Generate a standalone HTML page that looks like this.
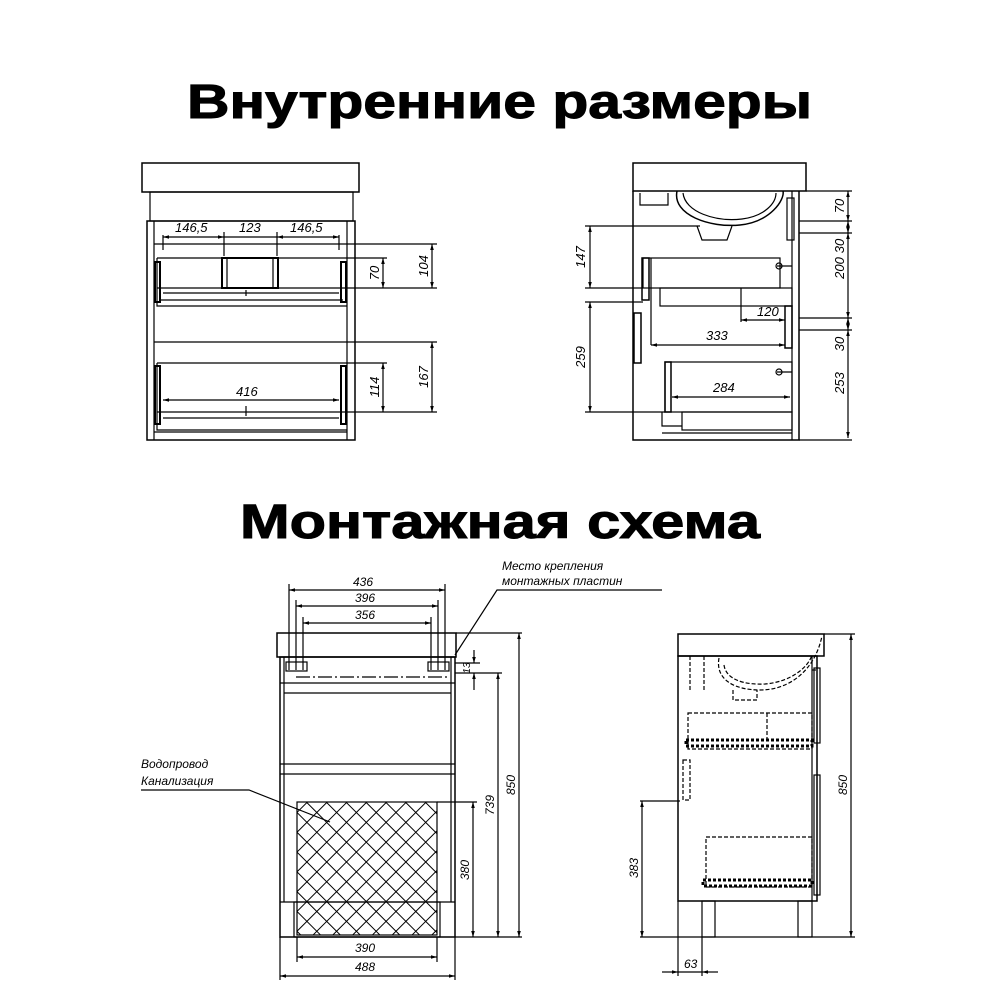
<!DOCTYPE html>
<html><head><meta charset="utf-8"><style>
html,body{margin:0;padding:0;background:#fff;}
svg{display:block}
.t{font-family:"Liberation Sans","DejaVu Sans",sans-serif;font-style:italic;font-size:13px;fill:#000}
.h{font-family:"Liberation Sans","DejaVu Sans",sans-serif;font-weight:bold;fill:#000}
</style></head><body>
<svg width="1000" height="1000" viewBox="0 0 1000 1000" xmlns="http://www.w3.org/2000/svg">
<defs>
<marker id="a" viewBox="0 0 10 10" refX="10" refY="5" markerWidth="7" markerHeight="5" orient="auto-start-reverse"><path d="M0,2 L10,5 L0,8 z" fill="#000"/></marker>
<pattern id="hp" width="14" height="14" patternUnits="userSpaceOnUse" patternTransform="rotate(45)"><rect width="14" height="14" fill="#fff"/><path d="M0,0 H14 M0,0 V14" stroke="#000" stroke-width="2"/></pattern>
</defs>
<text class="h" x="187" y="118" font-size="48" textLength="625" lengthAdjust="spacingAndGlyphs" stroke="#000" stroke-width="1">Внутренние размеры</text>
<text class="h" x="240" y="538" font-size="48" textLength="520" lengthAdjust="spacingAndGlyphs" stroke="#000" stroke-width="1">Монтажная схема</text>

<g fill="none" stroke="#000" stroke-width="1.2">
<!-- TOP LEFT -->
<rect x="142" y="163" width="217" height="29" stroke-width="1.5"/>
<rect x="150" y="192" width="203" height="29"/>
<rect x="147" y="221" width="208" height="219" stroke-width="1.5"/>
<line x1="154" y1="221" x2="154" y2="440"/><line x1="347" y1="221" x2="347" y2="440"/>
<line x1="154" y1="244" x2="437" y2="244"/>
<line x1="157" y1="258" x2="387" y2="258"/>
<line x1="157" y1="288" x2="437" y2="288"/>
<rect x="222" y="258" width="56" height="30" stroke-width="2"/>
<line x1="227" y1="258" x2="227" y2="288"/><line x1="273" y1="258" x2="273" y2="288"/>
<path d="M157,258 V306 H347 M163,293 H339 M161,300 H343"/>
<rect x="155" y="262" width="5" height="40" stroke-width="2"/>
<rect x="341" y="262" width="5" height="40" stroke-width="2"/>
<line x1="154" y1="342" x2="437" y2="342"/>
<line x1="157" y1="363" x2="387" y2="363"/>
<line x1="157" y1="412" x2="437" y2="412"/>
<path d="M157,363 V430 H347 M163,418 H339 M154,432 H347"/>
<rect x="155" y="366" width="5" height="58" stroke-width="2"/>
<rect x="341" y="366" width="5" height="58" stroke-width="2"/>
<line x1="163" y1="250" x2="163" y2="235"/><line x1="339" y1="250" x2="339" y2="235"/>
<line x1="224" y1="256" x2="224" y2="232"/><line x1="277" y1="256" x2="277" y2="232"/>
<line x1="163" y1="237" x2="224" y2="237" marker-start="url(#a)" marker-end="url(#a)"/>
<line x1="224" y1="237" x2="277" y2="237"/>
<line x1="277" y1="237" x2="339" y2="237" marker-start="url(#a)" marker-end="url(#a)"/>
<line x1="432" y1="244" x2="432" y2="288" marker-start="url(#a)" marker-end="url(#a)"/>
<line x1="383" y1="258" x2="383" y2="288" marker-start="url(#a)" marker-end="url(#a)"/>
<line x1="432" y1="342" x2="432" y2="412" marker-start="url(#a)" marker-end="url(#a)"/>
<line x1="383" y1="363" x2="383" y2="412" marker-start="url(#a)" marker-end="url(#a)"/>
<line x1="163" y1="400" x2="339" y2="400" marker-start="url(#a)" marker-end="url(#a)"/>
<line x1="246" y1="290" x2="246" y2="296"/><line x1="246" y1="406" x2="246" y2="416"/>

<!-- TOP RIGHT -->
<rect x="633" y="163" width="173" height="28" stroke-width="1.5"/>
<path d="M633,191 V440 H799 V191" stroke-width="1.5"/>
<line x1="792" y1="191" x2="792" y2="440"/>
<path d="M677,191 C672,215 710,228 740,225 C770,222 785,200 783,191" stroke-width="1.5"/>
<path d="M683,193 C685,212 715,222 742,219 C765,216 776,203 776,193"/>
<path d="M697,226 L702,240 H727 L732,226"/>
<path d="M640,193 V205 H668 V193"/>
<rect x="787" y="198" width="7" height="42"/>
<line x1="799" y1="221" x2="852" y2="221"/><line x1="799" y1="233" x2="852" y2="233"/>
<line x1="806" y1="191" x2="852" y2="191"/>
<line x1="799" y1="318" x2="852" y2="318"/><line x1="799" y1="330" x2="852" y2="330"/>
<line x1="799" y1="440" x2="852" y2="440"/>
<line x1="848" y1="191" x2="848" y2="221" marker-start="url(#a)" marker-end="url(#a)"/>
<line x1="848" y1="221" x2="848" y2="233" marker-start="url(#a)" marker-end="url(#a)"/>
<line x1="848" y1="233" x2="848" y2="318" marker-start="url(#a)" marker-end="url(#a)"/>
<line x1="848" y1="318" x2="848" y2="330" marker-start="url(#a)" marker-end="url(#a)"/>
<line x1="848" y1="330" x2="848" y2="438" marker-start="url(#a)" marker-end="url(#a)"/>
<rect x="643" y="258" width="137" height="30"/>
<line x1="651" y1="258" x2="651" y2="345"/>
<rect x="642" y="258" width="7" height="42" stroke-width="1.5"/>
<rect x="660" y="288" width="132" height="18"/>
<line x1="741" y1="288" x2="741" y2="322"/>
<rect x="785" y="306" width="7" height="42" stroke-width="1.5"/>
<rect x="634" y="313" width="7" height="50" stroke-width="1.5"/>
<line x1="651" y1="345" x2="785" y2="345" marker-start="url(#a)" marker-end="url(#a)"/>
<line x1="741" y1="320" x2="785" y2="320" marker-start="url(#a)" marker-end="url(#a)"/>
<rect x="665" y="362" width="127" height="50"/>
<rect x="665" y="362" width="6" height="50" stroke-width="1.5"/>
<rect x="682" y="412" width="110" height="18"/>
<path d="M662,412 V426 H682 M662,433 H792"/>
<line x1="672" y1="397" x2="790" y2="397" marker-start="url(#a)" marker-end="url(#a)"/>
<path d="M777,266 H792 M777,372 H792"/>
<circle cx="779" cy="266" r="3"/><circle cx="779" cy="372" r="3"/>
<line x1="585" y1="226" x2="700" y2="226"/><line x1="585" y1="288" x2="643" y2="288"/>
<line x1="585" y1="302" x2="643" y2="302"/><line x1="585" y1="412" x2="665" y2="412"/>
<line x1="590" y1="226" x2="590" y2="288" marker-start="url(#a)" marker-end="url(#a)"/>
<line x1="590" y1="302" x2="590" y2="412" marker-start="url(#a)" marker-end="url(#a)"/>

<!-- BOTTOM LEFT -->
<rect x="277" y="633" width="179" height="24" stroke-width="1.5"/>
<line x1="456" y1="633" x2="522" y2="633"/>
<rect x="280" y="657" width="175" height="280" stroke-width="1.5"/>
<line x1="284" y1="657" x2="284" y2="902"/><line x1="451" y1="657" x2="451" y2="902"/>
<line x1="280" y1="683" x2="455" y2="683"/><line x1="284" y1="693" x2="451" y2="693"/>
<line x1="280" y1="764" x2="455" y2="764"/><line x1="280" y1="774" x2="455" y2="774"/>
<rect x="286" y="662" width="21" height="9"/><rect x="428" y="662" width="21" height="9"/>
<line x1="296" y1="677" x2="450" y2="677" stroke-dasharray="14,3,2,3"/>
<line x1="289" y1="584" x2="289" y2="670"/><line x1="445" y1="584" x2="445" y2="670"/>
<line x1="296" y1="600" x2="296" y2="670"/><line x1="438" y1="600" x2="438" y2="670"/>
<line x1="303" y1="617" x2="303" y2="670"/><line x1="431" y1="617" x2="431" y2="670"/>
<line x1="289" y1="590" x2="445" y2="590" marker-start="url(#a)" marker-end="url(#a)"/>
<line x1="296" y1="606" x2="438" y2="606" marker-start="url(#a)" marker-end="url(#a)"/>
<line x1="303" y1="623" x2="431" y2="623" marker-start="url(#a)" marker-end="url(#a)"/>
<rect x="297" y="802" width="140" height="133" fill="url(#hp)"/>
<line x1="280" y1="902" x2="455" y2="902"/>
<rect x="294" y="902" width="146" height="35"/>
<line x1="437" y1="802" x2="477" y2="802"/>
<line x1="455" y1="937" x2="522" y2="937"/>
<line x1="455" y1="673" x2="502" y2="673"/><line x1="455" y1="663" x2="480" y2="663"/>
<line x1="519" y1="633" x2="519" y2="937" marker-start="url(#a)" marker-end="url(#a)"/>
<line x1="498" y1="673" x2="498" y2="937" marker-start="url(#a)" marker-end="url(#a)"/>
<line x1="473" y1="802" x2="473" y2="937" marker-start="url(#a)" marker-end="url(#a)"/>
<line x1="474" y1="650" x2="474" y2="663" marker-end="url(#a)"/>
<line x1="474" y1="690" x2="474" y2="673" marker-end="url(#a)"/>
<line x1="297" y1="937" x2="297" y2="962"/><line x1="437" y1="937" x2="437" y2="962"/>
<line x1="280" y1="937" x2="280" y2="980"/><line x1="455" y1="937" x2="455" y2="980"/>
<line x1="297" y1="957" x2="437" y2="957" marker-start="url(#a)" marker-end="url(#a)"/>
<line x1="280" y1="976" x2="455" y2="976" marker-start="url(#a)" marker-end="url(#a)"/>
<path d="M141,790 H249 L330,822"/>
<path d="M662,590 H497 L455,655"/>

<!-- BOTTOM RIGHT -->
<rect x="678" y="634" width="146" height="22" stroke-width="1.5"/>
<line x1="824" y1="634" x2="855" y2="634"/>
<rect x="678" y="656" width="139" height="245" stroke-width="1.5"/>
<line x1="812" y1="656" x2="812" y2="901"/>
<rect x="702" y="901" width="13" height="36"/><rect x="798" y="901" width="14" height="36"/>
<line x1="640" y1="937" x2="855" y2="937"/>
<line x1="640" y1="801" x2="680" y2="801"/>
<line x1="851" y1="634" x2="851" y2="937" marker-start="url(#a)" marker-end="url(#a)"/>
<line x1="642" y1="801" x2="642" y2="937" marker-start="url(#a)" marker-end="url(#a)"/>
<line x1="678" y1="901" x2="678" y2="976"/><line x1="702" y1="937" x2="702" y2="976"/>
<line x1="662" y1="972" x2="678" y2="972" marker-end="url(#a)"/>
<line x1="718" y1="972" x2="702" y2="972" marker-end="url(#a)"/>
<line x1="678" y1="972" x2="702" y2="972"/>
<g stroke-dasharray="4,2">
<path d="M719,658 C715,680 735,690 760,690 C790,690 815,670 822,636"/>
<path d="M724,665 C726,680 745,685 765,684 C790,682 808,668 812,655"/>
<path d="M733,690 V700 H757 V690"/>
<path d="M690,656 V690 M704,656 V690"/>
<rect x="688" y="713" width="124" height="36"/>
<line x1="767" y1="713" x2="767" y2="740"/>
<rect x="706" y="837" width="106" height="50"/>
<rect x="683" y="760" width="7" height="40"/>
<line x1="812" y1="670" x2="818" y2="670"/>
</g>
<rect x="686" y="740" width="126" height="6" stroke-width="3" stroke-dasharray="3,2"/>
<rect x="703" y="880" width="109" height="6" stroke-width="3" stroke-dasharray="3,2"/>
<rect x="814" y="668" width="6" height="75"/>
<rect x="814" y="775" width="6" height="120"/>
</g>

<g class="t">
<text x="175" y="232">146,5</text><text x="239" y="232">123</text><text x="290" y="232">146,5</text>
<text x="236" y="396">416</text>
<text x="706" y="340">333</text><text x="757" y="316">120</text><text x="713" y="392">284</text>
<text x="353" y="586" font-size="12">436</text><text x="355" y="602" font-size="12">396</text><text x="355" y="619" font-size="12">356</text>
<text x="355" y="952" font-size="12">390</text><text x="355" y="971" font-size="12">488</text>
<text x="684" y="968" font-size="12">63</text>
<text x="502" y="570" font-size="12">Место крепления</text>
<text x="502" y="585" font-size="12">монтажных пластин</text>
<text x="141" y="768" font-size="12">Водопровод</text>
<text x="141" y="785" font-size="12">Канализация</text>
</g>
<g class="t">
<text transform="translate(428,266) rotate(-90)" text-anchor="middle">104</text>
<text transform="translate(379,273) rotate(-90)" text-anchor="middle">70</text>
<text transform="translate(428,377) rotate(-90)" text-anchor="middle">167</text>
<text transform="translate(379,387) rotate(-90)" text-anchor="middle">114</text>
<text transform="translate(844,206) rotate(-90)" text-anchor="middle">70</text>
<text transform="translate(844,246) rotate(-90)" text-anchor="middle">30</text>
<text transform="translate(844,268) rotate(-90)" text-anchor="middle">200</text>
<text transform="translate(844,344) rotate(-90)" text-anchor="middle">30</text>
<text transform="translate(844,383) rotate(-90)" text-anchor="middle">253</text>
<text transform="translate(585,257) rotate(-90)" text-anchor="middle">147</text>
<text transform="translate(585,357) rotate(-90)" text-anchor="middle">259</text>
<text transform="translate(515,785) rotate(-90)" text-anchor="middle" font-size="12">850</text>
<text transform="translate(494,805) rotate(-90)" text-anchor="middle" font-size="12">739</text>
<text transform="translate(469,870) rotate(-90)" text-anchor="middle" font-size="12">380</text>
<text transform="translate(470,668) rotate(-90)" text-anchor="middle" font-size="10">13</text>
<text transform="translate(847,785) rotate(-90)" text-anchor="middle" font-size="12">850</text>
<text transform="translate(638,868) rotate(-90)" text-anchor="middle" font-size="12">383</text>
</g>
</svg>
</body></html>
